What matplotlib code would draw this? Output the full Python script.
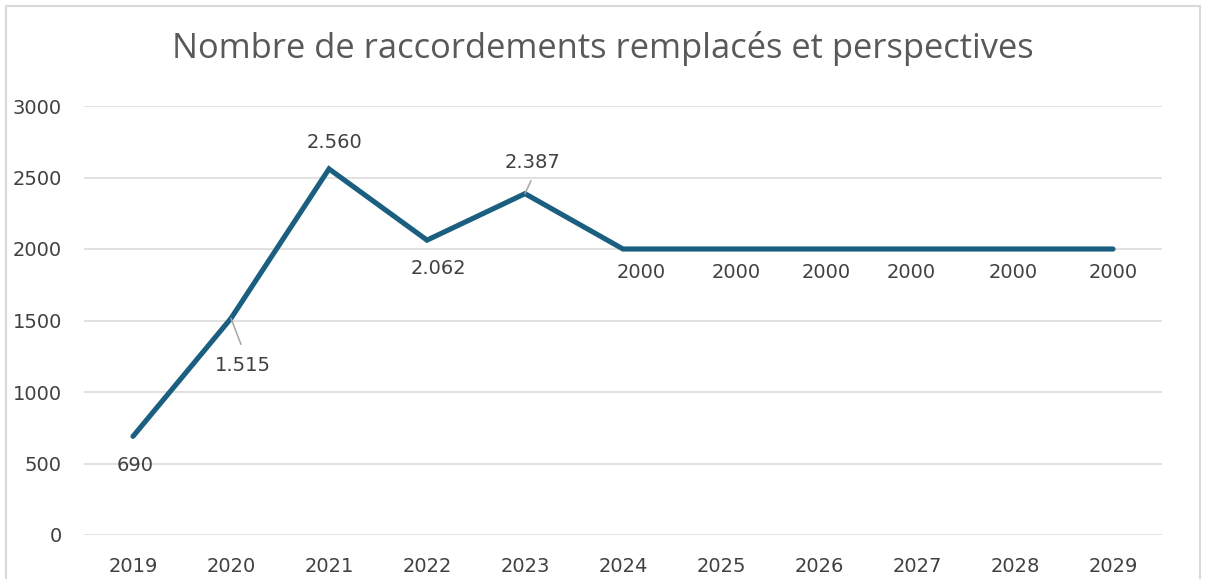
import matplotlib
matplotlib.use('Agg')
import matplotlib.pyplot as plt
from matplotlib.patches import Rectangle

plt.rcParams['font.family'] = ['DejaVu Sans']

# data
years = ['2019', '2020', '2021', '2022', '2023', '2024', '2025', '2026', '2027', '2028', '2029']
raccordements = [690, 1515, 2560, 2062, 2387, 2000, 2000, 2000, 2000, 2000, 2000]
n_reel = 5  # first values are actuals (formatted with '.'), the rest are forecasts
yticks = [0, 500, 1000, 1500, 2000, 2500, 3000]

# label placement (offset in pixels from the point), hand placed like in the source
label_offsets = [(2, -29), (12, -47), (6, 26), (11, -28), (7, 31),
                 (18, -23), (15, -23), (7, -23), (-6, -23), (-2, -23), (0, -23)]
leaders = {1: (10, -26), 4: (6, 13)}

line_color = '#1B5F80'
text_color = '#404040'
grid_color = '#D9D9D9'

fig = plt.figure(figsize=(12.05, 5.79), dpi=100)
fig.patches.append(Rectangle((6 / 1205, -0.1), 1194 / 1205, 1.1 - 6 / 579, transform=fig.transFigure,
                             fill=False, edgecolor='#D9D9D9', linewidth=1.5))
ax = fig.add_axes([84 / 1205, 1 - 535 / 579, 1078 / 1205, 429 / 579])

x = list(range(len(years)))
ax.plot(x, raccordements, color=line_color, linewidth=3.7,
        solid_capstyle='round', solid_joinstyle='miter', zorder=3)

for i, v in enumerate(raccordements):
    label = f'{v:,}'.replace(',', '.') if i < n_reel else str(v)
    dx, dy = label_offsets[i]
    ax.annotate(label, (i, v), xytext=(dx, dy), textcoords='offset pixels',
                ha='center', va='center', fontsize=14, color=text_color, zorder=4)
    if i in leaders:
        lx, ly = leaders[i]
        ax.annotate('', (i, v), xytext=(lx, ly), textcoords='offset pixels',
                    arrowprops=dict(arrowstyle='-', color='#A6A6A6', lw=1.1,
                                    shrinkA=0, shrinkB=0), zorder=4)

ax.set_xlim(-0.5, len(years) - 0.5)
ax.set_ylim(0, 3000)
ax.set_xticks(x)
ax.set_xticklabels(years)
ax.set_yticks(yticks)
ax.tick_params(axis='both', length=0, labelsize=14, labelcolor=text_color)
ax.tick_params(axis='x', pad=16)
ax.tick_params(axis='y', pad=16)
ax.grid(axis='y', color=grid_color, linewidth=1.1)
ax.set_axisbelow(True)
for s in ax.spines.values():
    s.set_visible(False)

fig.text(0.5, 1 - 49 / 579, 'Nombre de raccordements remplacés et perspectives',
         ha='center', va='center', fontsize=24.8, color='#595959', family='Open Sans')

fig.savefig('out.png', dpi=100)
